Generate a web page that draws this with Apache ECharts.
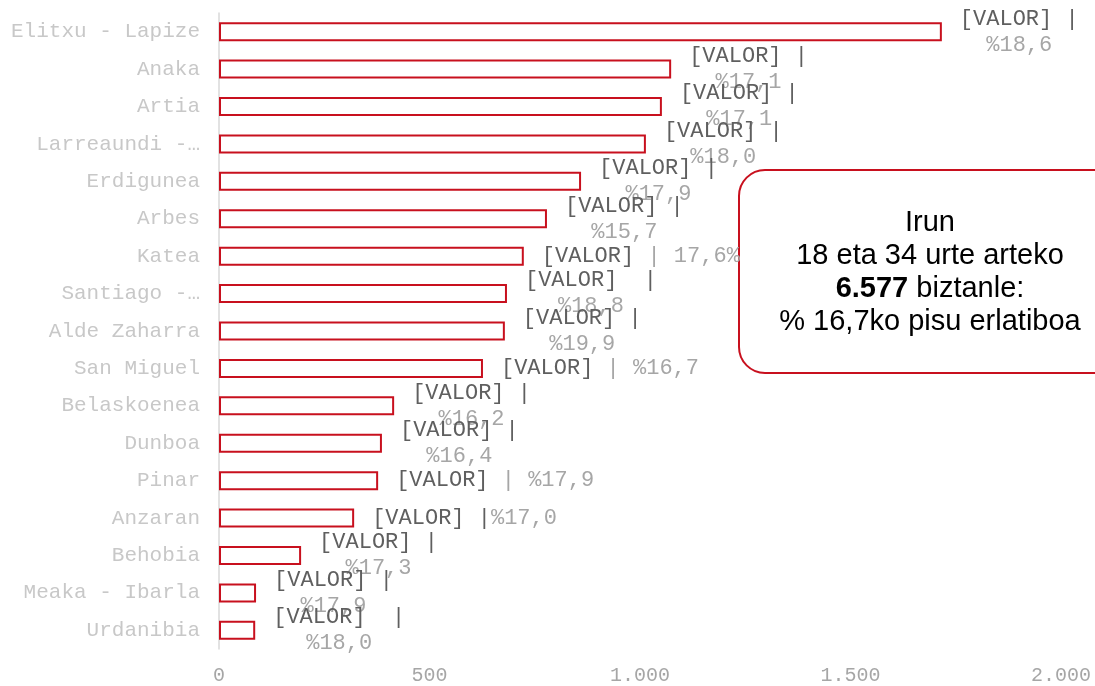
<!DOCTYPE html>
<html>
<head>
<meta charset="utf-8">
<title>Irun 18-34</title>
<script src="https://cdn.jsdelivr.net/npm/echarts@6/dist/echarts.min.js"></script>
<style>
    html, body { margin: 0; padding: 0; background: #fff; }
    #main { width: 1095px; height: 686px; }
</style>
</head>
<body>
<div id="main"></div>
<script>
// auzoak (goitik behera)
var categories = ['Elitxu - Lapize', 'Anaka', 'Artia', 'Larreaundi -…', 'Erdigunea', 'Arbes', 'Katea',
    'Santiago -…', 'Alde Zaharra', 'San Miguel', 'Belaskoenea', 'Dunboa', 'Pinar', 'Anzaran',
    'Behobia', 'Meaka - Ibarla', 'Urdanibia'];
var values = [1717, 1074, 1052, 1014, 860, 779, 724, 684, 679, 627, 416, 387, 378, 321, 195, 88, 86];
var shares = [18.6, 17.1, 17.1, 18.0, 17.9, 15.7, 17.6, 18.8, 19.9, 16.7, 16.2, 16.4, 17.9, 17.0, 17.3, 17.9, 18.0];
// etiketaren itxura (excel-eko etiketak ez dira berdinak)
var labelKinds = ['wrap', 'wrap', 'wrap', 'wrap', 'wrap', 'wrap', 'suffix', 'wrap2', 'wrap', 'inline',
    'wrap', 'wrap', 'inline', 'tight', 'wrap', 'wrap', 'wrap2'];
var xTicks = [0, 500, 1000, 1500, 2000];

function fmtPct(v) {
    return v.toFixed(1).replace('.', ',');
}
function fmtThousand(v) {
    if (v < 1000) return String(v);
    return Math.floor(v / 1000) + '.' + String(v % 1000).padStart(3, '0');
}

function labelText(i) {
    var p = fmtPct(shares[i]);
    switch (labelKinds[i]) {
        case 'wrap': return '{vc|[VALOR] |}\n{pc|%' + p + '}';
        case 'wrap2': return '{vc|[VALOR]  |}\n{pc|%' + p + '}';
        case 'suffix': return '{v|[VALOR]}{p| | ' + p + '%}';
        case 'inline': return '{v|[VALOR]}{p| | %' + p + '}';
        case 'tight': return '{v|[VALOR] |}{p|%' + p + '}';
    }
}

var myChart = echarts.init(document.getElementById('main'));
var mono = '"Liberation Mono", "Courier New", monospace';
var sans = '"Liberation Sans", Arial, sans-serif';
var red = '#c8101e';

var data = [];
for (let i = 0; i < values.length; i++) {
    data.push({ value: values[i], label: { formatter: labelText(i) } });
}

var option = {
    animation: false,
    grid: { left: 219, right: 34, top: 13, bottom: 34, containLabel: false },
    xAxis: {
        type: 'value',
        min: xTicks[0],
        max: xTicks[xTicks.length - 1],
        interval: 500,
        axisLine: { show: false },
        axisTick: { show: false },
        splitLine: { show: false },
        axisLabel: {
            margin: 17,
            color: '#a6a6a6',
            fontFamily: mono,
            fontSize: 20,
            formatter: fmtThousand
        }
    },
    yAxis: {
        type: 'category',
        inverse: true,
        data: categories,
        axisLine: { show: true, lineStyle: { color: '#d9d9d9', width: 1.5 } },
        axisTick: { show: false },
        axisLabel: {
            margin: 19,
            color: '#c8c8c8',
            fontFamily: mono,
            fontSize: 21
        }
    },
    series: [{
        type: 'bar',
        data: data,
        barWidth: 19,
        itemStyle: { color: '#ffffff', borderColor: red, borderWidth: 2 },
        label: {
            show: true,
            position: 'right',
            distance: 18,
            fontFamily: mono,
            fontSize: 22,
            lineHeight: 26,
            rich: {
                v: { color: '#5f5f5f', fontFamily: mono, fontSize: 22, lineHeight: 26 },
                p: { color: '#a6a6a6', fontFamily: mono, fontSize: 22, lineHeight: 26 },
                vc: { color: '#5f5f5f', fontFamily: mono, fontSize: 22, lineHeight: 26, align: 'center' },
                pc: { color: '#a6a6a6', fontFamily: mono, fontSize: 22, lineHeight: 26, align: 'center' }
            }
        }
    }],
    graphic: [
        {
            type: 'rect',
            z: 1,
            shape: { x: 739, y: 170, width: 420, height: 203, r: 26 },
            style: { fill: 'none', stroke: red, lineWidth: 2 }
        },
        {
            type: 'text',
            z: 1,
            x: 930,
            y: 272,
            style: {
                text: '{n|Irun}\n{n|18 eta 34 urte arteko}\n{b|6.577}{n| biztanle:}\n{n|% 16,7ko pisu erlatiboa}',
                align: 'center',
                textAlign: 'center',
                verticalAlign: 'middle',
                textVerticalAlign: 'middle',
                fill: '#000',
                rich: {
                    n: { fontFamily: sans, fontSize: 29, lineHeight: 33, fill: '#000', color: '#000' },
                    b: { fontFamily: sans, fontSize: 29, lineHeight: 33, fontWeight: 'bold', fill: '#000', color: '#000' }
                }
            }
        }
    ]
};

option && myChart.setOption(option);
window.onresize = myChart.resize;
</script>
</body>
</html>
